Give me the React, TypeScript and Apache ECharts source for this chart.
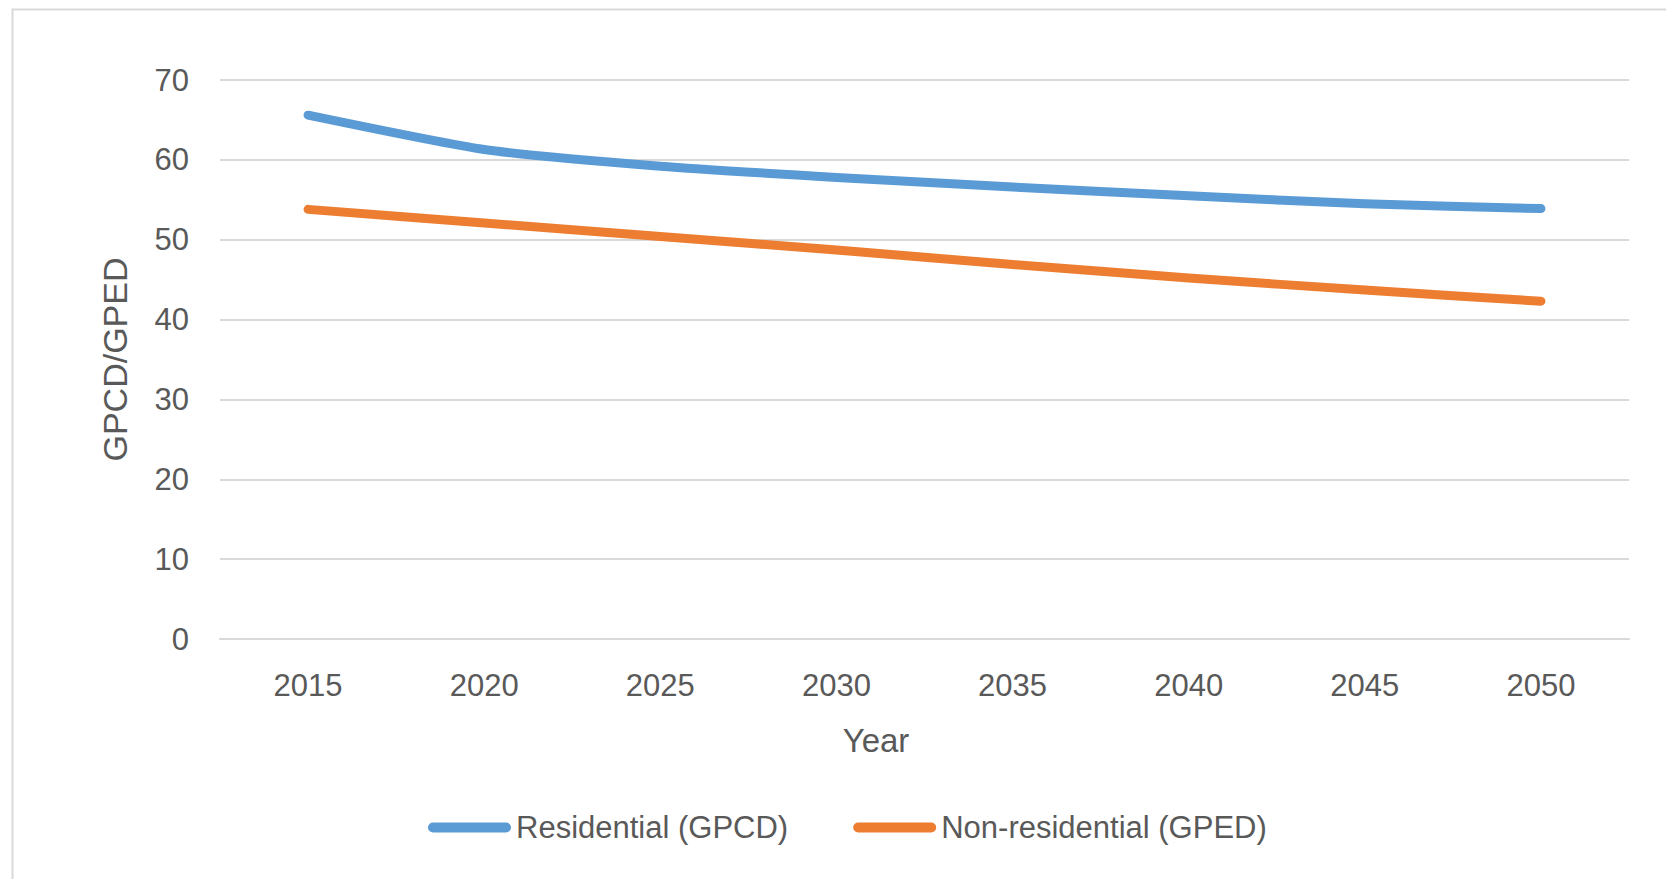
import React, { useEffect, useRef } from "react";
import * as echarts from "echarts";

// Projected water use intensity, 2015–2050
const years = ["2015", "2020", "2025", "2030", "2035", "2040", "2045", "2050"];
const residentialGpcd = [65.6, 61.3, 59.2, 57.8, 56.6, 55.5, 54.5, 53.9];
const nonResidentialGped = [53.8, 52.1, 50.4, 48.7, 46.9, 45.2, 43.7, 42.3];

const seriesNames = ["Residential (GPCD)", "Non-residential (GPED)"];
const seriesColors = ["#5b9bd5", "#ed7d31"];

const yAxisTitle = "GPCD/GPED";
const xAxisTitle = "Year";

const FONT = "'Liberation Sans', Arial, sans-serif";
const TEXT_COLOR = "#595959";
const GRID_COLOR = "#d9d9d9";

// Rounded bar used as the legend key
const legendIcon = "path://M5 0H78A5 5 0 0 1 78 10H5A5 5 0 0 1 5 0Z";

export default function App() {
  const ref = useRef<HTMLDivElement>(null);

  useEffect(() => {
    if (!ref.current) return;
    const chart = echarts.init(ref.current, null, { renderer: "svg" });

    const lineSeries = [residentialGpcd, nonResidentialGped].map((data, i) => ({
      name: seriesNames[i],
      type: "line" as const,
      data,
      smooth: 0.2,
      showSymbol: false,
      symbol: "none",
      color: seriesColors[i],
      lineStyle: { width: 9, color: seriesColors[i], cap: "round" as const, join: "round" as const },
    }));

    chart.setOption({
      animation: false,
      backgroundColor: "#ffffff",
      textStyle: { fontFamily: FONT, color: TEXT_COLOR },
      graphic: [
        {
          type: "rect",
          left: 10,
          top: 7,
          shape: { x: 0, y: 0, width: 1700, height: 1000 },
          style: { fill: "none", stroke: GRID_COLOR, lineWidth: 2 },
          silent: true,
        },
      ],
      grid: { left: 220, right: 37, top: 80, bottom: 240, containLabel: false },
      legend: {
        left: 423,
        top: 807,
        icon: legendIcon,
        itemWidth: 83,
        itemHeight: 10,
        itemGap: 65,
        textStyle: { fontFamily: FONT, fontSize: 31, color: TEXT_COLOR },
        data: seriesNames,
      },
      xAxis: {
        type: "category",
        data: years,
        boundaryGap: true,
        name: xAxisTitle,
        nameLocation: "middle",
        nameGap: 85,
        nameTextStyle: {
          fontFamily: FONT,
          fontSize: 33,
          color: TEXT_COLOR,
          padding: [0, 97, 0, 0],
        },
        axisLine: { show: true, lineStyle: { color: GRID_COLOR, width: 2 } },
        axisTick: { show: false },
        axisLabel: { fontFamily: FONT, fontSize: 31, color: TEXT_COLOR, margin: 31 },
        splitLine: { show: false },
      },
      yAxis: {
        type: "value",
        min: 0,
        max: 70,
        interval: 10,
        name: yAxisTitle,
        nameLocation: "middle",
        nameGap: 88,
        nameRotate: 90,
        nameTextStyle: { fontFamily: FONT, fontSize: 34, color: TEXT_COLOR },
        axisLine: { show: false },
        axisTick: { show: false },
        axisLabel: { fontFamily: FONT, fontSize: 31, color: TEXT_COLOR, margin: 31 },
        splitLine: { show: true, lineStyle: { color: GRID_COLOR, width: 2 } },
      },
      series: lineSeries,
    });

    return () => chart.dispose();
  }, []);

  return (
    <div
      ref={ref}
      style={{ position: "absolute", left: 0, top: 0, width: 1666, height: 879 }}
    />
  );
}
